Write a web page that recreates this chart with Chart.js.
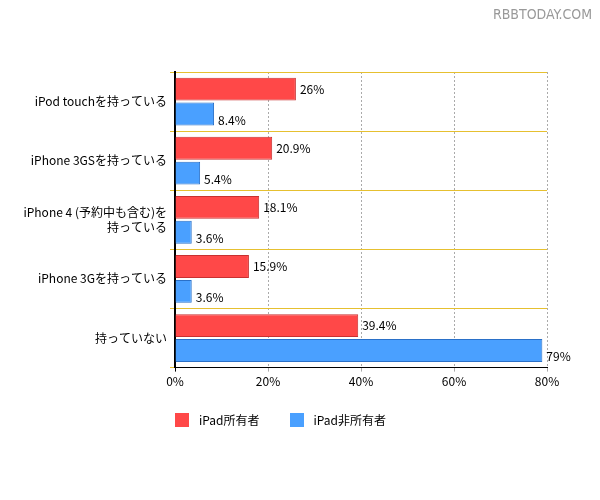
<!DOCTYPE html>
<html><head><meta charset="utf-8">
<script src="https://cdn.jsdelivr.net/npm/chart.js@4"></script>
<style>body{margin:0;background:#fff}#w{position:relative;width:600px;height:500px}
#wm{position:absolute;right:8px;top:6px;font:14px "DejaVu Sans Condensed",sans-serif;color:#999}
#lg{position:absolute;left:175px;top:411px;font:12px "Noto Sans CJK JP",sans-serif;color:#000;display:flex;gap:30px}
#lg span{display:flex;align-items:center;gap:10px}#lg i{display:inline-block;width:14px;height:14px}</style>
</head><body><div id="w"><canvas id="c" width="600" height="500"></canvas><div id="wm">RBBTODAY.COM</div>
<div id="lg"></div></div>
<script>
const categories=[["iPod touchを持っている"],["iPhone 3GSを持っている"],["iPhone 4 (予約中も含む)を","持っている"],["iPhone 3Gを持っている"],["持っていない"]];
const seriesNames=['iPad所有者','iPad非所有者'];
const owners=[26,20.9,18.1,15.9,39.4];
const nonOwners=[8.4,5.4,3.6,3.6,79];
const xTicks=[0,20,40,60,80];
const colors=['#ff4848','#4aa0ff'];
const F='"Noto Sans CJK JP","DejaVu Sans",sans-serif';
document.getElementById('lg').innerHTML=seriesNames.map((n,i)=>`<span><i style="background:${colors[i]}"></i>${n}</span>`).join('');
const labelPlugin={id:'lbl',afterDatasetsDraw(ch){const ctx=ch.ctx;ctx.save();ctx.font='12px '+F;ctx.fillStyle='#000';ctx.textBaseline='middle';
ch.data.datasets.forEach((ds,i)=>{ch.getDatasetMeta(i).data.forEach((b,j)=>{ctx.fillText(ds.data[j]+'%',b.x+4,b.y+(i?6:0));});});ctx.restore();}};
new Chart(document.getElementById('c'),{type:'bar',
data:{labels:categories,datasets:[
{label:seriesNames[0],data:owners,backgroundColor:colors[0],borderColor:'#c83030',borderWidth:1,categoryPercentage:0.84,barPercentage:0.92},
{label:seriesNames[1],data:nonOwners,backgroundColor:colors[1],borderColor:'#2a70c8',borderWidth:1,categoryPercentage:0.84,barPercentage:0.92}]},
options:{indexAxis:'y',responsive:false,animation:false,
layout:{padding:{left:10,right:53,top:72,bottom:108}},
plugins:{legend:{display:false},tooltip:{enabled:false}},
scales:{
x:{min:0,max:80,afterBuildTicks(s){s.ticks=xTicks.map(v=>({value:v}));},
ticks:{callback:v=>v+'%',font:{family:F,size:12},color:'#000'},
grid:{color:c=>c.index===0?'#000':'#aaa',lineWidth:1,tickLength:4},border:{color:'#000',dash:[2,2]}},
y:{afterFit(s){s.width=165;},ticks:{font:{family:F,size:12},color:'#000'},
grid:{offset:true,color:()=>'#e6c030',tickLength:5},border:{color:'#000',width:2}}}},
plugins:[labelPlugin]});
</script></body></html>
